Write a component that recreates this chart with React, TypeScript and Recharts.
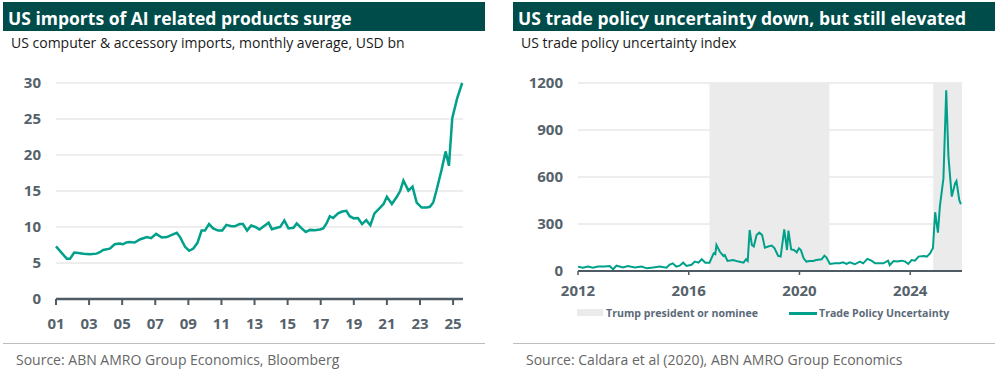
import React from "react";
import {
  CartesianGrid,
  Line,
  LineChart,
  ReferenceArea,
  XAxis,
  YAxis
} from "recharts";

// left chart: US computer & accessory imports (USD bn)
const importYears = [
  2001.0, 2001.65, 2001.85, 2002.1, 2002.35, 2002.65, 2003.05, 2003.45, 2003.65, 2003.85,
  2004.25, 2004.55, 2004.85, 2005.05, 2005.25, 2005.45, 2005.75, 2006.1, 2006.5, 2006.75,
  2007.05, 2007.4, 2007.7, 2008.0, 2008.3, 2008.5, 2008.8, 2009.05, 2009.3, 2009.55,
  2009.8, 2010.0, 2010.25, 2010.5, 2010.8, 2011.05, 2011.3, 2011.6, 2011.8, 2012.1,
  2012.3, 2012.55, 2012.8, 2013.05, 2013.3, 2013.5, 2013.85, 2014.05, 2014.35, 2014.55,
  2014.8, 2015.05, 2015.35, 2015.55, 2015.85, 2016.1, 2016.35, 2016.65, 2016.95, 2017.15,
  2017.35, 2017.55, 2017.75, 2018.05, 2018.3, 2018.55, 2018.75, 2019.0, 2019.25, 2019.5,
  2019.75, 2020.0, 2020.25, 2020.55, 2020.8, 2021.0, 2021.3, 2021.6, 2021.8, 2022.0,
  2022.3, 2022.55, 2022.8, 2023.1, 2023.4, 2023.6, 2023.8, 2024.0, 2024.3, 2024.55,
  2024.75, 2024.95, 2025.25, 2025.55
];
const importValues = [
  7.3, 5.6, 5.6, 6.45, 6.4, 6.3, 6.2, 6.3, 6.5, 6.8,
  7.0, 7.6, 7.7, 7.6, 7.85, 7.9, 7.85, 8.3, 8.6, 8.45,
  9.05, 8.55, 8.6, 8.9, 9.2, 8.6, 7.25, 6.7, 7.0, 7.8,
  9.5, 9.5, 10.4, 9.8, 9.5, 9.5, 10.3, 10.1, 10.1, 10.4,
  10.4, 9.5, 10.2, 10.0, 9.65, 10.0, 10.6, 9.7, 9.9, 10.0,
  10.9, 9.8, 9.9, 10.5, 9.8, 9.3, 9.6, 9.55, 9.65, 9.8,
  10.5, 11.5, 11.25, 11.9, 12.15, 12.25, 11.5, 11.2, 11.25, 10.4,
  10.95, 10.25, 11.9, 12.6, 13.2, 14.2, 13.2, 14.2, 15.0, 16.45,
  15.05, 15.6, 13.4, 12.7, 12.7, 12.8, 13.4, 15.1, 17.9, 20.5,
  18.5, 25.1, 27.9, 30.0
];
const importYTicks = [0, 5, 10, 15, 20, 25, 30];
const importXTicks = [2001, 2003, 2005, 2007, 2009, 2011, 2013, 2015, 2017, 2019, 2021, 2023, 2025];

// right chart: US trade policy uncertainty index
const tpuYears = [
  2012.0, 2012.18, 2012.36, 2012.54, 2012.72, 2012.96, 2013.14, 2013.27, 2013.39, 2013.63,
  2013.8, 2014.05, 2014.3, 2014.48, 2014.72, 2014.95, 2015.2, 2015.3, 2015.42, 2015.55,
  2015.67, 2015.8, 2015.92, 2016.1, 2016.22, 2016.35, 2016.47, 2016.6, 2016.75, 2016.9,
  2016.96, 2017.0, 2017.12, 2017.25, 2017.3, 2017.4, 2017.6, 2017.8, 2017.98, 2018.07,
  2018.13, 2018.2, 2018.28, 2018.35, 2018.45, 2018.55, 2018.65, 2018.75, 2018.87, 2019.0,
  2019.1, 2019.23, 2019.32, 2019.45, 2019.55, 2019.6, 2019.7, 2019.8, 2019.9, 2019.98,
  2020.05, 2020.15, 2020.25, 2020.37, 2020.5, 2020.6, 2020.8, 2020.9, 2020.97, 2021.1,
  2021.28, 2021.45, 2021.57, 2021.7, 2021.82, 2022.0, 2022.18, 2022.3, 2022.45, 2022.6,
  2022.73, 2022.9, 2023.03, 2023.2, 2023.26, 2023.4, 2023.52, 2023.7, 2023.82, 2023.93,
  2024.05, 2024.17, 2024.3, 2024.48, 2024.6, 2024.72, 2024.78, 2024.82, 2024.9, 2025.0,
  2025.07, 2025.2, 2025.3, 2025.38, 2025.5, 2025.62, 2025.67, 2025.77, 2025.83
];
const tpuValues = [
  28, 21, 28, 21, 28, 28, 32, 11, 34, 23,
  32, 23, 28, 17, 23, 28, 21, 40, 49, 28,
  34, 53, 32, 40, 60, 53, 75, 53, 53, 113,
  107, 166, 124, 96, 102, 64, 70, 60, 53, 75,
  64, 262, 166, 156, 230, 245, 230, 149, 156, 162,
  145, 96, 92, 266, 134, 258, 138, 134, 119, 145,
  134, 81, 60, 64, 64, 70, 75, 98, 87, 45,
  49, 49, 55, 45, 55, 43, 60, 49, 77, 66,
  49, 49, 49, 66, 38, 64, 60, 66, 60, 45,
  70, 66, 92, 96, 92, 113, 134, 145, 375, 245,
  411, 592, 1153, 731, 475, 560, 575, 454, 426
];
const tpuYTicks = [0, 300, 600, 900, 1200];
const tpuXTicks = [2012, 2016, 2020, 2024];
const trumpPeriods = [
  [2016.75, 2021.08],
  [2024.83, 2025.87]
];

const importData = importYears.map((year, i) => ({ year, value: importValues[i] }));
const tpuData = tpuYears.map((year, i) => ({ year, value: tpuValues[i] }));

const FONT = "'Open Sans', 'Noto Sans', sans-serif";
const TEAL = "#00a08a";
const HEADER = "#004c4a";
const AXIS = "#4f5b64";
const TICK = { fill: "#56626b", fontSize: 15, fontWeight: 700, fontFamily: FONT };

function Panel({
  left,
  title,
  subtitle,
  source,
  children
}: {
  left: number;
  title: string;
  subtitle: string;
  source: string;
  children: React.ReactNode;
}) {
  return (
    <>
      <div
        style={{
          position: "absolute",
          left: left + 3,
          top: 2,
          width: 482,
          height: 29,
          background: HEADER
        }}
      >
        <div
          style={{
            position: "absolute",
            left: 5,
            top: 6,
            lineHeight: "20px",
            fontSize: 17.5,
            fontWeight: 700,
            color: "#fff",
            whiteSpace: "nowrap"
          }}
        >
          {title}
        </div>
      </div>
      <div
        style={{
          position: "absolute",
          left: left + 11,
          top: 35,
          lineHeight: "16px",
          fontSize: 14,
          color: "#1a1a1a",
          whiteSpace: "nowrap"
        }}
      >
        {subtitle}
      </div>
      {children}
      <div
        style={{
          position: "absolute",
          left: left + 3,
          top: 343,
          width: 482,
          height: 1,
          background: "#bdbdbd"
        }}
      />
      <div
        style={{
          position: "absolute",
          left: left + 16,
          top: 352,
          lineHeight: "16px",
          fontSize: 14,
          color: "#666",
          whiteSpace: "nowrap"
        }}
      >
        {source}
      </div>
    </>
  );
}

function ImportsChart() {
  return (
    <div style={{ position: "absolute", left: 0, top: 60 }}>
      <LineChart width={490} height={280} data={importData} margin={{ top: 23, right: 27, bottom: 11, left: 0 }}>
        <CartesianGrid stroke="#dcdcdc" vertical={false} />
        <XAxis
          dataKey="year"
          type="number"
          domain={[2001, 2025.6]}
          ticks={importXTicks}
          tickFormatter={(v: number) => String(v).slice(2)}
          tick={TICK}
          axisLine={{ stroke: AXIS, strokeWidth: 2.5 }}
          tickLine={{ stroke: AXIS, strokeWidth: 2 }}
          tickSize={6}
          tickMargin={13}
          height={30}
          interval={0}
        />
        <YAxis
          domain={[0, 30]}
          ticks={importYTicks}
          tick={TICK}
          axisLine={false}
          tickLine={false}
          tickMargin={9}
          width={56}
        />
        <Line
          type="linear"
          dataKey="value"
          stroke={TEAL}
          strokeWidth={2.5}
          dot={false}
          isAnimationActive={false}
        />
      </LineChart>
    </div>
  );
}

function UncertaintyChart() {
  return (
    <div style={{ position: "absolute", left: 510, top: 60 }}>
      <LineChart width={490} height={250} data={tpuData} margin={{ top: 23, right: 38, bottom: 9, left: 0 }}>
        {trumpPeriods.map(([x1, x2], i) => (
          <ReferenceArea key={i} x1={x1} x2={x2} y1={0} y2={1200} fill="#ebebeb" fillOpacity={1} stroke="none" />
        ))}
        <CartesianGrid stroke="#dcdcdc" vertical={false} />
        <XAxis
          dataKey="year"
          type="number"
          domain={[2012, 2025.87]}
          ticks={tpuXTicks}
          tick={TICK}
          axisLine={{ stroke: AXIS, strokeWidth: 2 }}
          tickLine={{ stroke: AXIS, strokeWidth: 1.5 }}
          tickSize={4}
          tickMargin={10}
          height={30}
          interval={0}
        />
        <YAxis
          domain={[0, 1200]}
          ticks={tpuYTicks}
          tick={TICK}
          axisLine={false}
          tickLine={false}
          tickMargin={9}
          width={68}
        />
        <Line
          type="linear"
          dataKey="value"
          stroke={TEAL}
          strokeWidth={2}
          dot={false}
          isAnimationActive={false}
        />
      </LineChart>
      <div
        style={{
          position: "absolute",
          left: 0,
          top: 244,
          width: 490,
          height: 18,
          fontSize: 10.6,
          fontWeight: 700,
          color: "#5b6a78",
          whiteSpace: "nowrap"
        }}
      >
        <div style={{ position: "absolute", left: 67, top: 5, width: 26, height: 7, background: "#ebebeb" }} />
        <div style={{ position: "absolute", left: 96, top: 0, lineHeight: "18px" }}>Trump president or nominee</div>
        <div style={{ position: "absolute", left: 279, top: 8, width: 28, height: 2.5, background: TEAL }} />
        <div style={{ position: "absolute", left: 309, top: 0, lineHeight: "18px" }}>Trade Policy Uncertainty</div>
      </div>
    </div>
  );
}

export default function App() {
  return (
    <div
      style={{
        position: "absolute",
        left: 0,
        top: 0,
        width: 1000,
        height: 371,
        background: "#fff",
        fontFamily: FONT,
        overflow: "hidden"
      }}
    >
      <Panel
        left={0}
        title="US imports of AI related products surge"
        subtitle="US computer & accessory imports, monthly average, USD bn"
        source="Source: ABN AMRO Group Economics, Bloomberg"
      >
        <ImportsChart />
      </Panel>
      <Panel
        left={510}
        title="US trade policy uncertainty down, but still elevated"
        subtitle="US trade policy uncertainty index"
        source="Source: Caldara et al (2020), ABN AMRO Group Economics"
      >
        <UncertaintyChart />
      </Panel>
    </div>
  );
}
